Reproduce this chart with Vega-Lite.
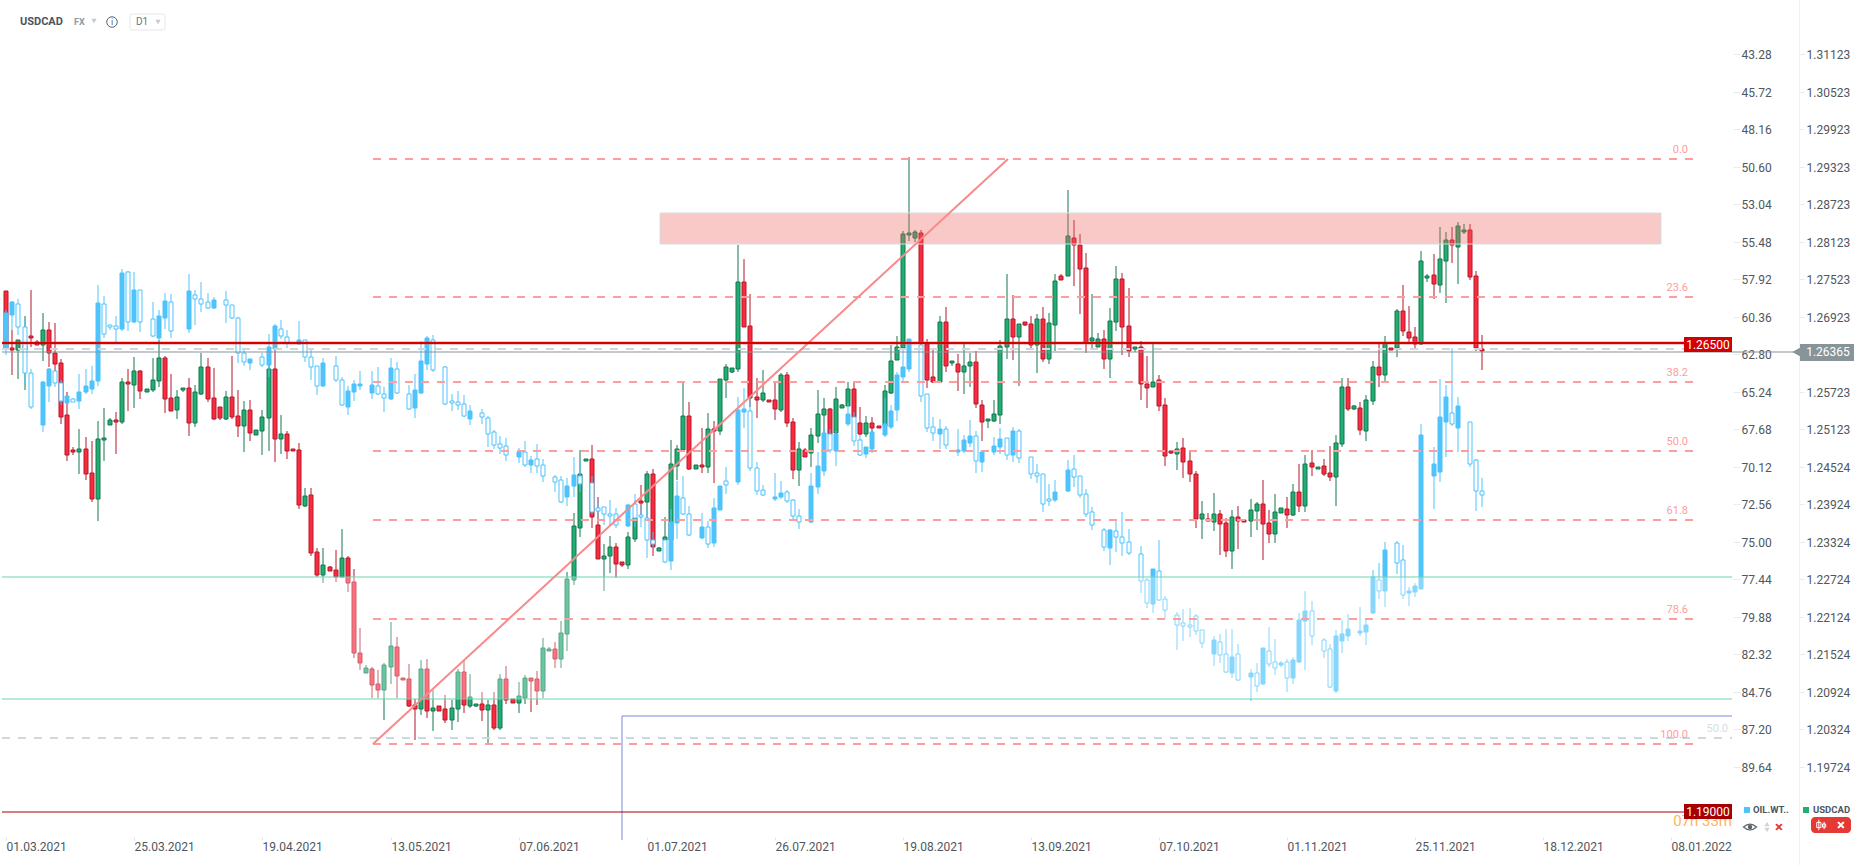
{"$schema":"https://vega.github.io/schema/vega-lite/v6.json","width":1866,"height":865,"padding":0,"autosize":"none","background":"white","config":{"view":{"stroke":null},"font":"Roboto","text":{"font":"Roboto"}},
"datasets":{"usdcad":[
{"i":0,"o":1.27334,"h":1.27334,"l":1.26422,"c":1.26422},{"i":1,"o":1.26422,"h":1.2671,"l":1.2599,"c":1.2639},{"i":2,"o":1.2639,"h":1.2655,"l":1.25926,"c":1.2655},{"i":3,"o":1.2639,"h":1.26934,"l":1.2575,"c":1.2647},{"i":4,"o":1.26614,"h":1.2735,"l":1.26438,"c":1.26582},{"i":5,"o":1.26518,"h":1.2655,"l":1.2647,"c":1.2647},{"i":6,"o":1.2647,"h":1.26982,"l":1.26214,"c":1.2671},{"i":7,"o":1.2671,"h":1.26838,"l":1.26118,"c":1.26342},{"i":8,"o":1.26342,"h":1.26822,"l":1.26022,"c":1.26166},{"i":9,"o":1.26182,"h":1.26246,"l":1.25206,"c":1.25318},
{"i":10,"o":1.2535,"h":1.25718,"l":1.24614,"c":1.2471},{"i":11,"o":1.2479,"h":1.24838,"l":1.2471,"c":1.24758},{"i":12,"o":1.24758,"h":1.25126,"l":1.24406,"c":1.24806},{"i":13,"o":1.24806,"h":1.24998,"l":1.2431,"c":1.24406},{"i":14,"o":1.24422,"h":1.24934,"l":1.23958,"c":1.24006},{"i":15,"o":1.24006,"h":1.25254,"l":1.23654,"c":1.24966},{"i":16,"o":1.2495,"h":1.25462,"l":1.24614,"c":1.24982},{"i":17,"o":1.2519,"h":1.25302,"l":1.2519,"c":1.2527},{"i":18,"o":1.2527,"h":1.25398,"l":1.24726,"c":1.25238},{"i":19,"o":1.25238,"h":1.25942,"l":1.25206,"c":1.25878},
{"i":20,"o":1.25878,"h":1.26086,"l":1.25414,"c":1.25846},{"i":21,"o":1.2583,"h":1.26278,"l":1.25462,"c":1.26054},{"i":22,"o":1.26054,"h":1.2607,"l":1.25606,"c":1.25734},{"i":23,"o":1.25718,"h":1.25766,"l":1.25718,"c":1.25766},{"i":24,"o":1.2575,"h":1.26262,"l":1.25718,"c":1.2591},{"i":25,"o":1.25894,"h":1.2655,"l":1.25798,"c":1.26262},{"i":26,"o":1.26262,"h":1.26294,"l":1.25382,"c":1.25606},{"i":27,"o":1.25622,"h":1.26006,"l":1.25414,"c":1.25414},{"i":28,"o":1.2543,"h":1.2575,"l":1.25286,"c":1.25638},{"i":29,"o":1.2575,"h":1.25782,"l":1.25718,"c":1.25782},
{"i":30,"o":1.25782,"h":1.25942,"l":1.25014,"c":1.25222},{"i":31,"o":1.25222,"h":1.2583,"l":1.25158,"c":1.25718},{"i":32,"o":1.25686,"h":1.26342,"l":1.2567,"c":1.26118},{"i":33,"o":1.26118,"h":1.26262,"l":1.25558,"c":1.25606},{"i":34,"o":1.25622,"h":1.26102,"l":1.2527,"c":1.25286},{"i":35,"o":1.25478,"h":1.25478,"l":1.2527,"c":1.25302},{"i":36,"o":1.25286,"h":1.25734,"l":1.2527,"c":1.25638},{"i":37,"o":1.25638,"h":1.26294,"l":1.25286,"c":1.25318},{"i":38,"o":1.25334,"h":1.2575,"l":1.24998,"c":1.25174},{"i":39,"o":1.25174,"h":1.25574,"l":1.24758,"c":1.2543},
{"i":40,"o":1.2543,"h":1.2559,"l":1.24934,"c":1.25062},{"i":41,"o":1.2503,"h":1.2511,"l":1.2503,"c":1.2511},{"i":42,"o":1.25094,"h":1.2543,"l":1.2471,"c":1.25318},{"i":43,"o":1.25302,"h":1.26342,"l":1.24774,"c":1.26086},{"i":44,"o":1.26086,"h":1.2639,"l":1.24598,"c":1.24966},{"i":45,"o":1.24966,"h":1.2535,"l":1.24726,"c":1.25046},{"i":46,"o":1.25046,"h":1.25094,"l":1.24646,"c":1.24774},{"i":47,"o":1.24806,"h":1.24806,"l":1.24774,"c":1.24774},{"i":48,"o":1.2479,"h":1.24902,"l":1.23846,"c":1.2391},{"i":49,"o":1.23894,"h":1.24182,"l":1.23878,"c":1.24054},
{"i":50,"o":1.2407,"h":1.24182,"l":1.23094,"c":1.23142},{"i":51,"o":1.23158,"h":1.23222,"l":1.22758,"c":1.2279},{"i":52,"o":1.2279,"h":1.23222,"l":1.22662,"c":1.2295},{"i":53,"o":1.22918,"h":1.22934,"l":1.22854,"c":1.22854},{"i":54,"o":1.2287,"h":1.2319,"l":1.22678,"c":1.22758},{"i":55,"o":1.22758,"h":1.23526,"l":1.22758,"c":1.23062},{"i":56,"o":1.23062,"h":1.23094,"l":1.22518,"c":1.22662},{"i":57,"o":1.22678,"h":1.22886,"l":1.21462,"c":1.21542},{"i":58,"o":1.21542,"h":1.21942,"l":1.2127,"c":1.21382},{"i":59,"o":1.21222,"h":1.2135,"l":1.21222,"c":1.21302},
{"i":60,"o":1.21286,"h":1.21318,"l":1.20822,"c":1.2103},{"i":61,"o":1.21046,"h":1.2127,"l":1.20822,"c":1.2095},{"i":62,"o":1.2095,"h":1.21382,"l":1.2047,"c":1.2135},{"i":63,"o":1.21318,"h":1.22038,"l":1.21046,"c":1.21654},{"i":64,"o":1.21638,"h":1.21798,"l":1.20822,"c":1.21174},{"i":65,"o":1.21142,"h":1.21142,"l":1.2111,"c":1.2111},{"i":66,"o":1.21126,"h":1.21366,"l":1.20678,"c":1.20694},{"i":67,"o":1.2071,"h":1.20806,"l":1.2015,"c":1.20646},{"i":68,"o":1.20646,"h":1.2143,"l":1.2055,"c":1.21286},{"i":69,"o":1.21286,"h":1.21446,"l":1.20502,"c":1.20614},
{"i":70,"o":1.20614,"h":1.2095,"l":1.20294,"c":1.20662},{"i":71,"o":1.20694,"h":1.20694,"l":1.20614,"c":1.20614},{"i":72,"o":1.20646,"h":1.2087,"l":1.20422,"c":1.2047},{"i":73,"o":1.2047,"h":1.2079,"l":1.2031,"c":1.20662},{"i":74,"o":1.20646,"h":1.21286,"l":1.20438,"c":1.21238},{"i":75,"o":1.21238,"h":1.21414,"l":1.20582,"c":1.2071},{"i":76,"o":1.20694,"h":1.21206,"l":1.20662,"c":1.20838},{"i":77,"o":1.20694,"h":1.20726,"l":1.20678,"c":1.20726},{"i":78,"o":1.20726,"h":1.20918,"l":1.20454,"c":1.2063},{"i":79,"o":1.2063,"h":1.2079,"l":1.20102,"c":1.2071},
{"i":80,"o":1.2071,"h":1.20918,"l":1.2031,"c":1.20342},{"i":81,"o":1.20342,"h":1.21206,"l":1.2031,"c":1.21126},{"i":82,"o":1.21126,"h":1.21334,"l":1.20726,"c":1.2079},{"i":83,"o":1.20806,"h":1.20806,"l":1.20742,"c":1.20742},{"i":84,"o":1.20742,"h":1.21078,"l":1.20582,"c":1.20854},{"i":85,"o":1.20822,"h":1.2119,"l":1.20726,"c":1.21142},{"i":86,"o":1.21142,"h":1.21142,"l":1.20598,"c":1.21094},{"i":87,"o":1.21126,"h":1.21254,"l":1.2071,"c":1.20934},{"i":88,"o":1.20934,"h":1.21782,"l":1.20822,"c":1.21622},{"i":89,"o":1.21574,"h":1.21638,"l":1.21574,"c":1.21606},
{"i":90,"o":1.21606,"h":1.21718,"l":1.21302,"c":1.21446},{"i":91,"o":1.21446,"h":1.22054,"l":1.21302,"c":1.21862},{"i":92,"o":1.21846,"h":1.22838,"l":1.21574,"c":1.22726},{"i":93,"o":1.2271,"h":1.23782,"l":1.2263,"c":1.23574},{"i":94,"o":1.23542,"h":1.2479,"l":1.23398,"c":1.24406},{"i":95,"o":1.24614,"h":1.24646,"l":1.24614,"c":1.24646},{"i":96,"o":1.24646,"h":1.2487,"l":1.23542,"c":1.23718},{"i":97,"o":1.2359,"h":1.24038,"l":1.23046,"c":1.23046},{"i":98,"o":1.23046,"h":1.23286,"l":1.22534,"c":1.23094},{"i":99,"o":1.23094,"h":1.23414,"l":1.22822,"c":1.23238},
{"i":100,"o":1.23238,"h":1.23302,"l":1.22742,"c":1.22966},{"i":101,"o":1.22998,"h":1.22998,"l":1.22918,"c":1.2295},{"i":102,"o":1.2295,"h":1.23478,"l":1.22886,"c":1.23398},{"i":103,"o":1.23366,"h":1.23974,"l":1.23318,"c":1.23702},{"i":104,"o":1.23974,"h":1.2423,"l":1.23702,"c":1.23942},{"i":105,"o":1.23958,"h":1.24454,"l":1.23702,"c":1.24406},{"i":106,"o":1.24406,"h":1.24486,"l":1.23094,"c":1.23238},{"i":107,"o":1.23174,"h":1.23238,"l":1.23174,"c":1.23222},{"i":108,"o":1.2335,"h":1.23718,"l":1.2335,"c":1.23398},{"i":109,"o":1.2335,"h":1.2495,"l":1.2311,"c":1.24566},
{"i":110,"o":1.24534,"h":1.2487,"l":1.2431,"c":1.24806},{"i":111,"o":1.2479,"h":1.25894,"l":1.24758,"c":1.25334},{"i":112,"o":1.25334,"h":1.25558,"l":1.2447,"c":1.24486},{"i":113,"o":1.24486,"h":1.2455,"l":1.24486,"c":1.2455},{"i":114,"o":1.2455,"h":1.25142,"l":1.24422,"c":1.24518},{"i":115,"o":1.24518,"h":1.25382,"l":1.24422,"c":1.25126},{"i":116,"o":1.25126,"h":1.25254,"l":1.24262,"c":1.25094},{"i":117,"o":1.25094,"h":1.25926,"l":1.2503,"c":1.25926},{"i":118,"o":1.2591,"h":1.26166,"l":1.25622,"c":1.26118},{"i":119,"o":1.26038,"h":1.26102,"l":1.26022,"c":1.26102},
{"i":120,"o":1.26086,"h":1.2807,"l":1.26038,"c":1.27478},{"i":121,"o":1.27478,"h":1.27846,"l":1.26758,"c":1.26758},{"i":122,"o":1.26774,"h":1.27286,"l":1.25478,"c":1.25622},{"i":123,"o":1.25638,"h":1.25942,"l":1.25302,"c":1.2559},{"i":124,"o":1.2559,"h":1.2607,"l":1.25558,"c":1.25702},{"i":125,"o":1.2559,"h":1.2559,"l":1.25558,"c":1.25558},{"i":126,"o":1.2559,"h":1.25894,"l":1.2527,"c":1.25446},{"i":127,"o":1.2543,"h":1.26022,"l":1.25398,"c":1.2599},{"i":128,"o":1.2599,"h":1.26038,"l":1.25158,"c":1.25222},{"i":129,"o":1.25238,"h":1.25302,"l":1.24326,"c":1.2447},
{"i":130,"o":1.2447,"h":1.24918,"l":1.24214,"c":1.24806},{"i":131,"o":1.2479,"h":1.24822,"l":1.24678,"c":1.24678},{"i":132,"o":1.24742,"h":1.25142,"l":1.24518,"c":1.2503},{"i":133,"o":1.25014,"h":1.2575,"l":1.24902,"c":1.25366},{"i":134,"o":1.2535,"h":1.25622,"l":1.25062,"c":1.25446},{"i":135,"o":1.25446,"h":1.25462,"l":1.2503,"c":1.25046},{"i":136,"o":1.25062,"h":1.25798,"l":1.2503,"c":1.25606},{"i":137,"o":1.25462,"h":1.25526,"l":1.25462,"c":1.2551},{"i":138,"o":1.25494,"h":1.25878,"l":1.25494,"c":1.25766},{"i":139,"o":1.25766,"h":1.25862,"l":1.25302,"c":1.25318},
{"i":140,"o":1.25222,"h":1.25478,"l":1.2503,"c":1.25046},{"i":141,"o":1.25046,"h":1.25334,"l":1.24998,"c":1.25222},{"i":142,"o":1.25222,"h":1.25318,"l":1.25078,"c":1.25142},{"i":143,"o":1.25174,"h":1.25174,"l":1.25142,"c":1.25142},{"i":144,"o":1.25174,"h":1.2583,"l":1.25174,"c":1.25734},{"i":145,"o":1.25702,"h":1.2647,"l":1.25686,"c":1.26214},{"i":146,"o":1.2623,"h":1.26614,"l":1.2623,"c":1.26438},{"i":147,"o":1.26422,"h":1.28294,"l":1.26422,"c":1.28246},{"i":148,"o":1.2823,"h":1.29478,"l":1.28134,"c":1.28262},{"i":149,"o":1.28182,"h":1.2831,"l":1.28118,"c":1.28278},
{"i":150,"o":1.28262,"h":1.2831,"l":1.2647,"c":1.26502},{"i":151,"o":1.26486,"h":1.26566,"l":1.25782,"c":1.2591},{"i":152,"o":1.25958,"h":1.26422,"l":1.25862,"c":1.25878},{"i":153,"o":1.25878,"h":1.26934,"l":1.25878,"c":1.26838},{"i":154,"o":1.26838,"h":1.27078,"l":1.26038,"c":1.26134},{"i":155,"o":1.26182,"h":1.26214,"l":1.26134,"c":1.26214},{"i":156,"o":1.26166,"h":1.26326,"l":1.25734,"c":1.26038},{"i":157,"o":1.26038,"h":1.26518,"l":1.25686,"c":1.26134},{"i":158,"o":1.26134,"h":1.26342,"l":1.25798,"c":1.26198},{"i":159,"o":1.26198,"h":1.26374,"l":1.25462,"c":1.25526},
{"i":160,"o":1.2551,"h":1.2559,"l":1.24934,"c":1.25238},{"i":161,"o":1.25254,"h":1.25286,"l":1.25142,"c":1.25286},{"i":162,"o":1.25254,"h":1.2559,"l":1.25238,"c":1.25366},{"i":163,"o":1.2535,"h":1.2655,"l":1.25206,"c":1.26454},{"i":164,"o":1.26438,"h":1.27606,"l":1.26246,"c":1.26886},{"i":165,"o":1.26886,"h":1.2727,"l":1.2623,"c":1.26598},{"i":166,"o":1.26598,"h":1.26806,"l":1.25814,"c":1.26806},{"i":167,"o":1.26838,"h":1.26838,"l":1.26774,"c":1.2679},{"i":168,"o":1.26806,"h":1.26934,"l":1.2639,"c":1.2647},{"i":169,"o":1.2647,"h":1.26966,"l":1.26022,"c":1.26886},
{"i":170,"o":1.26886,"h":1.27078,"l":1.26198,"c":1.26246},{"i":171,"o":1.26246,"h":1.26982,"l":1.26166,"c":1.26822},{"i":172,"o":1.2679,"h":1.27606,"l":1.26374,"c":1.27494},{"i":173,"o":1.27574,"h":1.27606,"l":1.2751,"c":1.2751},{"i":174,"o":1.27574,"h":1.2895,"l":1.27574,"c":1.28214},{"i":175,"o":1.28182,"h":1.2847,"l":1.27414,"c":1.2807},{"i":176,"o":1.2807,"h":1.28246,"l":1.26966,"c":1.27686},{"i":177,"o":1.27702,"h":1.27942,"l":1.26342,"c":1.26502},{"i":178,"o":1.26534,"h":1.27286,"l":1.26422,"c":1.26582},{"i":179,"o":1.26438,"h":1.26662,"l":1.26438,"c":1.26566},
{"i":180,"o":1.26566,"h":1.2671,"l":1.26086,"c":1.26246},{"i":181,"o":1.26246,"h":1.27062,"l":1.25942,"c":1.26854},{"i":182,"o":1.26838,"h":1.27734,"l":1.26694,"c":1.27526},{"i":183,"o":1.27526,"h":1.27622,"l":1.2631,"c":1.26758},{"i":184,"o":1.26774,"h":1.27382,"l":1.26278,"c":1.26374},{"i":185,"o":1.26406,"h":1.26438,"l":1.26358,"c":1.26438},{"i":186,"o":1.26438,"h":1.26534,"l":1.2559,"c":1.25846},{"i":187,"o":1.25846,"h":1.26294,"l":1.25462,"c":1.25782},{"i":188,"o":1.25798,"h":1.26486,"l":1.25798,"c":1.25878},{"i":189,"o":1.2591,"h":1.2599,"l":1.25414,"c":1.25494},
{"i":190,"o":1.2551,"h":1.25622,"l":1.24534,"c":1.24694},{"i":191,"o":1.24774,"h":1.24774,"l":1.24726,"c":1.24742},{"i":192,"o":1.24726,"h":1.24918,"l":1.2447,"c":1.24806},{"i":193,"o":1.24822,"h":1.24982,"l":1.24342,"c":1.24598},{"i":194,"o":1.24614,"h":1.2479,"l":1.24278,"c":1.24406},{"i":195,"o":1.24406,"h":1.24454,"l":1.23542,"c":1.23686},{"i":196,"o":1.23686,"h":1.23974,"l":1.23366,"c":1.23766},{"i":197,"o":1.23686,"h":1.23782,"l":1.23654,"c":1.23654},{"i":198,"o":1.23638,"h":1.24102,"l":1.23494,"c":1.23766},{"i":199,"o":1.23766,"h":1.2383,"l":1.2311,"c":1.23606},
{"i":200,"o":1.23622,"h":1.23702,"l":1.23078,"c":1.23174},{"i":201,"o":1.23174,"h":1.2383,"l":1.22886,"c":1.23718},{"i":202,"o":1.23718,"h":1.23894,"l":1.23206,"c":1.23654},{"i":203,"o":1.2367,"h":1.23686,"l":1.23638,"c":1.23638},{"i":204,"o":1.23654,"h":1.24006,"l":1.23398,"c":1.2383},{"i":205,"o":1.23814,"h":1.23958,"l":1.2351,"c":1.23926},{"i":206,"o":1.23926,"h":1.2431,"l":1.2303,"c":1.23606},{"i":207,"o":1.23622,"h":1.2383,"l":1.23302,"c":1.23446},{"i":208,"o":1.23446,"h":1.24086,"l":1.23302,"c":1.23798},{"i":209,"o":1.23782,"h":1.23862,"l":1.23782,"c":1.23862},
{"i":210,"o":1.23846,"h":1.24038,"l":1.23542,"c":1.2375},{"i":211,"o":1.2375,"h":1.24246,"l":1.23734,"c":1.24118},{"i":212,"o":1.24118,"h":1.24566,"l":1.23798,"c":1.23894},{"i":213,"o":1.23894,"h":1.2471,"l":1.23798,"c":1.24566},{"i":214,"o":1.24582,"h":1.2479,"l":1.24374,"c":1.24518},{"i":215,"o":1.24486,"h":1.24518,"l":1.24486,"c":1.24518},{"i":216,"o":1.24534,"h":1.24646,"l":1.24374,"c":1.24406},{"i":217,"o":1.24422,"h":1.24854,"l":1.24294,"c":1.24358},{"i":218,"o":1.24358,"h":1.2503,"l":1.23894,"c":1.24902},{"i":219,"o":1.24886,"h":1.25942,"l":1.24838,"c":1.25798},
{"i":220,"o":1.25798,"h":1.25942,"l":1.25414,"c":1.25446},{"i":221,"o":1.25446,"h":1.2551,"l":1.2543,"c":1.25494},{"i":222,"o":1.25462,"h":1.25558,"l":1.2503,"c":1.2511},{"i":223,"o":1.25094,"h":1.2567,"l":1.24934,"c":1.2559},{"i":224,"o":1.25574,"h":1.26214,"l":1.2551,"c":1.26118},{"i":225,"o":1.26118,"h":1.26486,"l":1.25798,"c":1.2599},{"i":226,"o":1.2599,"h":1.26614,"l":1.25862,"c":1.26502},{"i":227,"o":1.26422,"h":1.26422,"l":1.2639,"c":1.2639},{"i":228,"o":1.26422,"h":1.27046,"l":1.26278,"c":1.27014},{"i":229,"o":1.27014,"h":1.2743,"l":1.26614,"c":1.26694},
{"i":230,"o":1.26678,"h":1.27094,"l":1.26502,"c":1.26582},{"i":231,"o":1.26598,"h":1.26758,"l":1.26422,"c":1.26486},{"i":232,"o":1.26486,"h":1.27974,"l":1.2647,"c":1.27814},{"i":233,"o":1.27542,"h":1.27606,"l":1.27478,"c":1.27574},{"i":234,"o":1.2759,"h":1.27926,"l":1.27206,"c":1.27446},{"i":235,"o":1.2743,"h":1.28358,"l":1.27302,"c":1.27846},{"i":236,"o":1.27814,"h":1.28278,"l":1.27142,"c":1.2815},{"i":237,"o":1.2815,"h":1.28358,"l":1.27782,"c":1.2807},{"i":238,"o":1.28038,"h":1.28438,"l":1.27446,"c":1.28374},{"i":239,"o":1.28278,"h":1.28406,"l":1.28246,"c":1.2831},
{"i":240,"o":1.2831,"h":1.28406,"l":1.2751,"c":1.27558},{"i":241,"o":1.27574,"h":1.27654,"l":1.26374,"c":1.26422},{"i":242,"o":1.26406,"h":1.2663,"l":1.2607,"c":1.26374}
],"oil":[
{"i":0,"o":62.4,"h":62.85,"l":59.92,"c":60.12},{"i":1,"o":60.25,"h":61.22,"l":59.34,"c":59.4},{"i":2,"o":59.53,"h":61.55,"l":59.21,"c":61.03},{"i":3,"o":61.03,"h":64.81,"l":60.51,"c":64.03},{"i":4,"o":64.03,"h":66.37,"l":63.77,"c":66.24},{"i":6,"o":67.41,"h":67.86,"l":64.55,"c":64.61},{"i":7,"o":64.87,"h":65.91,"l":63.7,"c":63.77},{"i":8,"o":63.9,"h":64.94,"l":63.77,"c":64.68},{"i":9,"o":64.68,"h":66.11,"l":64.48,"c":65.85},{"i":10,"o":65.98,"h":65.98,"l":65.52,"c":65.52},{"i":11,"o":65.72,"h":65.91,"l":65.65,"c":65.91},{"i":12,"o":65.85,"h":66.37,"l":64.09,"c":65.26},{"i":13,"o":65.26,"h":65.39,"l":63.77,"c":64.87},{"i":14,"o":65.07,"h":65.39,"l":63.57,"c":64.55},{"i":15,"o":64.55,"h":64.87,"l":58.3,"c":59.47},{"i":16,"o":59.53,"h":61.75,"l":59.01,"c":61.48},{"i":17,"o":60.9,"h":61.22,"l":60.9,"c":61.03},{"i":18,"o":60.96,"h":62.01,"l":60.31,"c":61.16},{"i":19,"o":61.16,"h":61.29,"l":57.26,"c":57.52},{"i":20,"o":57.45,"h":61.29,"l":57.39,"c":60.7},{"i":21,"o":60.7,"h":60.77,"l":57.45,"c":58.62},{"i":22,"o":58.62,"h":61.35,"l":58.62,"c":60.7},{"i":24,"o":60.51,"h":61.68,"l":59.4,"c":61.61},{"i":25,"o":61.75,"h":62.2,"l":59.92,"c":60.31},{"i":26,"o":60.44,"h":61.16,"l":58.81,"c":59.34},{"i":27,"o":59.4,"h":61.75,"l":58.88,"c":61.29},{"i":30,"o":61.16,"h":61.42,"l":57.58,"c":58.69},{"i":31,"o":58.95,"h":60.9,"l":58.62,"c":59.21},{"i":32,"o":59.21,"h":60.05,"l":58.1,"c":59.53},{"i":33,"o":59.4,"h":59.86,"l":58.81,"c":59.79},{"i":34,"o":59.79,"h":59.86,"l":59.08,"c":59.27},{"i":36,"o":59.27,"h":60.77,"l":58.69,"c":59.6},{"i":37,"o":59.6,"h":60.51,"l":59.6,"c":60.44},{"i":38,"o":60.44,"h":63.38,"l":60.38,"c":62.72},{"i":39,"o":62.72,"h":63.57,"l":62.53,"c":63.31},{"i":40,"o":63.38,"h":63.83,"l":63.12,"c":63.12},{"i":42,"o":62.98,"h":63.63,"l":62.72,"c":63.5},{"i":43,"o":63.5,"h":64.29,"l":61.48,"c":62.33},{"i":44,"o":62.46,"h":62.59,"l":60.83,"c":60.96},{"i":45,"o":61.16,"h":61.81,"l":60.57,"c":61.61},{"i":46,"o":61.68,"h":62.4,"l":61.22,"c":62.07},{"i":48,"o":62.14,"h":62.2,"l":60.64,"c":61.88},{"i":49,"o":61.88,"h":63.31,"l":61.88,"c":62.98},
{"i":50,"o":62.98,"h":64.48,"l":62.53,"c":63.63},{"i":51,"o":63.57,"h":65.46,"l":63.57,"c":64.87},{"i":52,"o":64.87,"h":64.94,"l":63.05,"c":63.38},{"i":54,"o":63.57,"h":64.61,"l":62.92,"c":64.48},{"i":55,"o":64.48,"h":66.17,"l":64.29,"c":66.11},{"i":56,"o":66.24,"h":66.76,"l":64.87,"c":65.2},{"i":57,"o":65.26,"h":65.85,"l":64.48,"c":64.74},{"i":58,"o":64.87,"h":65.13,"l":63.9,"c":64.74},{"i":60,"o":65.33,"h":65.72,"l":63.9,"c":64.81},{"i":61,"o":64.87,"h":65.46,"l":63.63,"c":65.39},{"i":62,"o":65.39,"h":66.56,"l":64.94,"c":65.65},{"i":63,"o":65.72,"h":65.78,"l":63.05,"c":63.7},{"i":64,"o":63.77,"h":65.39,"l":63.31,"c":65.33},{"i":66,"o":65.39,"h":66.43,"l":64.81,"c":66.37},{"i":67,"o":66.3,"h":66.95,"l":64.09,"c":65.13},{"i":68,"o":65.33,"h":65.39,"l":61.94,"c":63.24},{"i":69,"o":63.44,"h":63.83,"l":61.61,"c":61.75},{"i":70,"o":61.88,"h":63.96,"l":61.55,"c":63.83},{"i":72,"o":63.63,"h":66.11,"l":63.57,"c":66.04},{"i":73,"o":65.85,"h":66.5,"l":65.39,"c":65.98},{"i":74,"o":65.91,"h":66.43,"l":65.2,"c":66.11},{"i":75,"o":66.04,"h":66.89,"l":65.46,"c":66.82},{"i":76,"o":67.02,"h":67.41,"l":66.11,"c":66.5},{"i":78,"o":66.63,"h":67.34,"l":66.37,"c":66.89},{"i":79,"o":66.95,"h":68.84,"l":66.82,"c":67.99},{"i":80,"o":67.86,"h":68.97,"l":67.73,"c":68.71},{"i":81,"o":68.64,"h":69.29,"l":68.12,"c":68.9},{"i":82,"o":68.77,"h":69.75,"l":68.25,"c":69.36},{"i":84,"o":69.49,"h":69.88,"l":68.9,"c":69.16},{"i":85,"o":69.16,"h":70.14,"l":68.45,"c":70.01},{"i":86,"o":70.01,"h":70.53,"l":69.42,"c":69.68},{"i":87,"o":69.62,"h":70.53,"l":68.64,"c":70.07},{"i":88,"o":70.01,"h":71.11,"l":69.62,"c":70.72},{"i":90,"o":70.79,"h":71.76,"l":70.66,"c":71.11},{"i":91,"o":70.98,"h":72.48,"l":70.72,"c":72.42},{"i":92,"o":72.09,"h":72.68,"l":70.85,"c":71.37},{"i":93,"o":71.37,"h":72.09,"l":69.49,"c":70.66},{"i":94,"o":70.72,"h":71.76,"l":69.81,"c":71.24},{"i":96,"o":71.18,"h":73.2,"l":70.72,"c":73.07},{"i":97,"o":72.81,"h":73.46,"l":72.42,"c":73},{"i":98,"o":72.74,"h":73.92,"l":72.74,"c":73.2},{"i":99,"o":73.2,"h":73.92,"l":72.29,"c":73.33},
{"i":100,"o":73.2,"h":74.11,"l":72.81,"c":73.92},{"i":102,"o":73.98,"h":74.05,"l":72.55,"c":72.61},{"i":103,"o":72.55,"h":74.05,"l":71.89,"c":73.46},{"i":104,"o":73.26,"h":74.05,"l":72.61,"c":73.39},{"i":105,"o":73.46,"h":76.06,"l":72.81,"c":74.89},{"i":106,"o":74.89,"h":75.41,"l":74.37,"c":75.15},{"i":108,"o":74.89,"h":76.39,"l":74.83,"c":76.32},{"i":109,"o":76.26,"h":76.84,"l":72.87,"c":73.72},{"i":110,"o":73.78,"h":74.83,"l":71.05,"c":72.03},{"i":111,"o":72.16,"h":73.26,"l":70.72,"c":73.2},{"i":112,"o":73.2,"h":74.63,"l":72.68,"c":74.57},{"i":114,"o":74.76,"h":74.83,"l":73.13,"c":74.05},{"i":115,"o":74.05,"h":75.41,"l":73.65,"c":75.15},{"i":116,"o":75.09,"h":75.35,"l":72.16,"c":72.81},{"i":117,"o":72.94,"h":72.94,"l":71.37,"c":71.37},{"i":118,"o":71.05,"h":71.89,"l":70.14,"c":71.31},{"i":120,"o":71.11,"h":71.31,"l":65.59,"c":66.43},{"i":121,"o":66.56,"h":67.6,"l":65,"c":66.37},{"i":122,"o":66.5,"h":70.4,"l":65.52,"c":70.2},{"i":123,"o":70.2,"h":71.96,"l":69.81,"c":71.7},{"i":124,"o":71.63,"h":72.03,"l":71.31,"c":71.96},{"i":126,"o":72.22,"h":72.35,"l":70.53,"c":72.09},{"i":127,"o":72.09,"h":72.22,"l":71.05,"c":71.83},{"i":128,"o":71.76,"h":72.48,"l":71.63,"c":72.35},{"i":129,"o":72.29,"h":73.59,"l":72.22,"c":73.33},{"i":130,"o":73.33,"h":74.18,"l":72.87,"c":73.72},{"i":132,"o":73.72,"h":73.78,"l":70.53,"c":71.37},{"i":133,"o":71.44,"h":71.89,"l":69.16,"c":70.07},{"i":134,"o":70.4,"h":70.72,"l":67.6,"c":67.93},{"i":135,"o":67.99,"h":69.23,"l":67.66,"c":69.03},{"i":136,"o":69.1,"h":70.07,"l":67.8,"c":67.99},{"i":138,"o":67.34,"h":67.47,"l":65.98,"c":66.69},{"i":139,"o":66.89,"h":68.77,"l":66.56,"c":68.45},{"i":140,"o":68.38,"h":69.42,"l":68.05,"c":69.36},{"i":141,"o":69.29,"h":69.55,"l":68.84,"c":68.84},{"i":142,"o":68.97,"h":69.23,"l":67.73,"c":67.86},{"i":144,"o":68.05,"h":68.18,"l":65.65,"c":67.34},{"i":145,"o":67.54,"h":67.67,"l":66.11,"c":66.5},{"i":146,"o":66.43,"h":67.15,"l":63.96,"c":64.16},{"i":147,"o":64.29,"h":64.55,"l":62.46,"c":63.63},{"i":148,"o":63.77,"h":63.96,"l":61.81,"c":61.81},
{"i":150,"o":62.2,"h":65.91,"l":62.2,"c":65.52},{"i":151,"o":65.39,"h":67.86,"l":65.39,"c":67.6},{"i":152,"o":67.54,"h":68.45,"l":66.89,"c":67.93},{"i":153,"o":67.99,"h":68.97,"l":67.02,"c":67.67},{"i":154,"o":67.67,"h":68.97,"l":67.47,"c":68.71},{"i":156,"o":69.16,"h":69.42,"l":67.67,"c":69.03},{"i":157,"o":69.1,"h":69.23,"l":68.05,"c":68.38},{"i":158,"o":68.58,"h":68.84,"l":67.08,"c":68.12},{"i":159,"o":68.12,"h":70.53,"l":67.8,"c":69.75},{"i":160,"o":69.81,"h":70.46,"l":69.16,"c":69.16},{"i":162,"o":69.16,"h":69.36,"l":68.18,"c":68.77},{"i":163,"o":68.84,"h":69.29,"l":67.6,"c":68.32},{"i":164,"o":68.25,"h":69.68,"l":68.25,"c":69.36},{"i":165,"o":69.36,"h":69.81,"l":67.54,"c":67.8},{"i":166,"o":67.8,"h":69.88,"l":67.67,"c":69.55},{"i":168,"o":69.49,"h":70.92,"l":69.49,"c":70.59},{"i":169,"o":70.53,"h":71.18,"l":69.94,"c":70.72},{"i":170,"o":70.59,"h":73.07,"l":70.59,"c":72.55},{"i":171,"o":72.22,"h":72.68,"l":71.24,"c":72.35},{"i":172,"o":72.29,"h":72.42,"l":70.98,"c":71.76},{"i":174,"o":71.7,"h":71.76,"l":69.68,"c":70.33},{"i":175,"o":70.27,"h":71.44,"l":69.36,"c":70.79},{"i":176,"o":70.72,"h":72.16,"l":70.72,"c":71.96},{"i":177,"o":71.89,"h":73.39,"l":71.57,"c":73.2},{"i":178,"o":73.07,"h":74.24,"l":72.74,"c":73.92},{"i":180,"o":74.24,"h":75.6,"l":74.11,"c":75.35},{"i":181,"o":75.41,"h":76.52,"l":74.18,"c":74.24},{"i":182,"o":74.31,"h":75.67,"l":73.65,"c":74.7},{"i":183,"o":74.7,"h":75.93,"l":73.07,"c":75.09},{"i":184,"o":75.02,"h":75.86,"l":74.18,"c":75.74},{"i":186,"o":75.8,"h":78.33,"l":75.28,"c":77.56},{"i":187,"o":77.49,"h":79.31,"l":77.36,"c":78.98},{"i":188,"o":79.05,"h":79.64,"l":76.77,"c":76.77},{"i":189,"o":76.9,"h":78.86,"l":74.89,"c":78.79},{"i":190,"o":78.72,"h":79.96,"l":78.53,"c":79.44},{"i":192,"o":79.77,"h":82.04,"l":79.57,"c":80.42},{"i":193,"o":80.29,"h":81.46,"l":79.38,"c":80.48},{"i":194,"o":80.42,"h":81.2,"l":79.31,"c":80.55},{"i":195,"o":79.83,"h":81.07,"l":79.7,"c":80.81},{"i":196,"o":80.74,"h":81.91,"l":80.74,"c":81.59},{"i":198,"o":82.3,"h":83.09,"l":81.13,"c":81.39},{"i":199,"o":81.52,"h":82.89,"l":81,"c":82.37},
{"i":200,"o":82.3,"h":83.54,"l":80.68,"c":83.48},{"i":201,"o":83.54,"h":83.87,"l":80.68,"c":82.5},{"i":202,"o":82.3,"h":84.06,"l":81.65,"c":84},{"i":204,"o":83.8,"h":85.37,"l":83.28,"c":83.54},{"i":205,"o":83.54,"h":84.78,"l":82.89,"c":84.39},{"i":206,"o":84.26,"h":84.33,"l":81.91,"c":81.91},{"i":207,"o":82.11,"h":83.15,"l":80.55,"c":82.96},{"i":208,"o":82.83,"h":83.67,"l":81.33,"c":83.22},{"i":209,"o":83.02,"h":83.15,"l":82.76,"c":82.89},{"i":210,"o":82.83,"h":84.78,"l":82.63,"c":83.87},{"i":211,"o":83.87,"h":84.26,"l":82.5,"c":82.7},{"i":212,"o":82.83,"h":82.89,"l":79.64,"c":80.09},{"i":213,"o":80.16,"h":83.35,"l":78.21,"c":79.51},{"i":214,"o":79.51,"h":81.72,"l":78.86,"c":81.13},{"i":216,"o":81.39,"h":82.57,"l":81.26,"c":82.11},{"i":217,"o":81.98,"h":84.52,"l":81.65,"c":84.46},{"i":218,"o":84.72,"h":84.85,"l":80.74,"c":81.13},{"i":219,"o":81.46,"h":82.24,"l":80.09,"c":81},{"i":220,"o":81.13,"h":81.46,"l":79.7,"c":80.68},{"i":222,"o":80.94,"h":81.13,"l":79.25,"c":80.81},{"i":223,"o":80.87,"h":81.72,"l":79.96,"c":80.42},{"i":224,"o":79.64,"h":79.7,"l":76.84,"c":77.3},{"i":225,"o":77.49,"h":78.72,"l":76.39,"c":78.21},{"i":226,"o":78.21,"h":79.25,"l":75.02,"c":75.54},{"i":228,"o":75.09,"h":77.1,"l":74.96,"c":76.39},{"i":229,"o":76.19,"h":78.72,"l":75.22,"c":78.46},{"i":230,"o":78.33,"h":79.18,"l":77.95,"c":78.21},{"i":231,"o":78.27,"h":78.6,"l":77.69,"c":77.88},{"i":232,"o":78.07,"h":78.07,"l":67.34,"c":68.05},{"i":234,"o":70.72,"h":72.87,"l":68.84,"c":69.94},{"i":235,"o":70.46,"h":71.11,"l":64.42,"c":66.89},{"i":236,"o":67.21,"h":69.49,"l":64.81,"c":65.59},{"i":237,"o":66.63,"h":67.47,"l":62.4,"c":67.34},{"i":238,"o":67.6,"h":69.16,"l":65.59,"c":66.17},{"i":240,"o":67.21,"h":70.14,"l":67.21,"c":69.94},{"i":241,"o":69.68,"h":73,"l":69.62,"c":71.7},{"i":242,"o":71.7,"h":72.74,"l":70.85,"c":71.96}
]},
"encoding":{"x":{"field":"i","type":"quantitative","title":null,"scale":{"domain":[-1.033,304.9],"nice":false,"zero":false,"round":true,"padding":0},"axis":{"orient":"bottom","offset":-28,"domain":false,"grid":false,"tickSize":3,"tickColor":"#dfe4e6","labelPadding":1,"labelAlign":"left","labelBaseline":"top","labelFont":"Roboto","labelFontSize":12,"labelColor":"#50575d","labelOverlap":false,"labelFlush":false,"labelBound":false,"values":[0,21,42,63,84,105,126,147,168,189,210,231,252,273],"labelExpr":"['01.03.2021','25.03.2021','19.04.2021','13.05.2021','07.06.2021','01.07.2021','26.07.2021','19.08.2021','13.09.2021','07.10.2021','01.11.2021','25.11.2021','18.12.2021','08.01.2022'][round(datum.value/21)]"}}},
"layer":[
{"data":{"name":"usdcad"},"encoding":{"y":{"field":"l","type":"quantitative","title":null,"scale":{"domain":[1.1815,1.3199],"nice":false,"zero":false,"round":true},"axis":{"orient":"right","offset":-67,"grid":false,"domain":true,"domainColor":"#eef1f2","tickSize":5,"tickColor":"#e8ecee","labelPadding":2,"labelFont":"Roboto","labelFontSize":12,"labelColor":"#50575d","format":".5f","labelOverlap":false,"labelBound":false,"values":[1.31123,1.30523,1.29923,1.29323,1.28723,1.28123,1.27523,1.26923,1.25723,1.25123,1.24524,1.23924,1.23324,1.22724,1.22124,1.21524,1.20924,1.20324,1.19724]}}},
"layer":[
{"mark":{"type":"rule","strokeWidth":1},"encoding":{"y2":{"field":"h"},"stroke":{"condition":{"test":"datum.c>=datum.o","value":"#13774f"},"value":"#b3182b"}}},
{"mark":{"type":"bar","width":4,"strokeWidth":1,"opacity":1},"encoding":{"y":{"field":"o","type":"quantitative"},"y2":{"field":"c"},"fill":{"condition":{"test":"datum.c>=datum.o","value":"#22ad72"},"value":"#fb2b3f"},"stroke":{"condition":{"test":"datum.c>=datum.o","value":"#13774f"},"value":"#b3182b"}}}
]},
{"data":{"name":"oil"},"encoding":{"y":{"field":"l","type":"quantitative","title":null,"scale":{"domain":[39.755,96.03],"reverse":true,"nice":false,"zero":false,"round":true},"axis":{"orient":"right","offset":-133,"grid":false,"domain":false,"tickSize":7,"tickColor":"#e8ecee","labelPadding":1,"labelFont":"Roboto","labelFontSize":12,"labelColor":"#50575d","format":".2f","labelOverlap":false,"labelBound":false,"values":[43.28,45.72,48.16,50.6,53.04,55.48,57.92,60.36,62.8,65.24,67.68,70.12,72.56,75,77.44,79.88,82.32,84.76,87.2,89.64]}}},
"layer":[
{"mark":{"type":"rule","strokeWidth":1,"stroke":"#4fc3fb"},"encoding":{"y2":{"field":"h"}}},
{"mark":{"type":"bar","width":4,"strokeWidth":1,"stroke":"#4fc3fb","opacity":1},"encoding":{"y":{"field":"o","type":"quantitative"},"y2":{"field":"c"},"fill":{"condition":{"test":"datum.c>=datum.o","value":"#ffffff"},"value":"#4fc3fb"}}}
]},
{"encoding":{"y":{"field":"p","type":"quantitative","title":null,"scale":{"domain":[1.1815,1.3199],"nice":false,"zero":false,"round":true},"axis":null}},
"layer":[
{"data":{"values":[{"i":-0.7,"i2":282.9,"p":1.22752,"p2":1.20809}]},"mark":{"type":"rect","fill":"#ffffff","fillOpacity":0.32},"encoding":{"x2":{"field":"i2"},"y2":{"field":"p2"}}},
{"data":{"values":[{"i":-0.7,"i2":282.9,"p":1.22752},{"i":-0.7,"i2":282.9,"p":1.20809}]},"mark":{"type":"rule","stroke":"#6dd5b0","strokeWidth":1},"encoding":{"x2":{"field":"i2"}}},
{"data":{"values":[{"i":-0.7,"i2":282.9,"p":1.26401},{"i":-0.7,"i2":282.9,"p":1.20177}]},"mark":{"type":"rule","stroke":"#ccd9dd","strokeWidth":2,"strokeDash":[8,8]},"encoding":{"x2":{"field":"i2"}}},
{"data":{"values":[{"i":-0.7,"i2":293.1,"p":1.26365}]},"mark":{"type":"rule","stroke":"#87949a","strokeWidth":1},"encoding":{"x2":{"field":"i2"}}},
{"data":{"values":[{"i":60.1,"i2":276.5,"p":1.29441},{"i":60.1,"i2":276.5,"p":1.27233},{"i":60.1,"i2":276.5,"p":1.25873},{"i":60.1,"i2":276.5,"p":1.24769},{"i":60.1,"i2":276.5,"p":1.23665},{"i":60.1,"i2":276.5,"p":1.22081},{"i":60.1,"i2":276.5,"p":1.20086}]},"mark":{"type":"rule","stroke":"#ff9c9c","strokeWidth":2,"strokeDash":[8,8]},"encoding":{"x2":{"field":"i2"}}},
{"data":{"values":[{"i":101,"i2":282.9,"p":1.20529}]},"mark":{"type":"rule","stroke":"#7b88d4","strokeWidth":1},"encoding":{"x2":{"field":"i2"}}},
{"data":{"values":[{"i":101,"p":1.20529,"p2":1.1855}]},"mark":{"type":"rule","stroke":"#7b88d4","strokeWidth":1},"encoding":{"y2":{"field":"p2"}}},
{"data":{"values":[{"i":107.1,"i2":271.3,"p":1.28577,"p2":1.28082}]},"mark":{"type":"rect","fill":"#ed645e","fillOpacity":0.35,"stroke":"#d4e0e3","strokeWidth":1},"encoding":{"x2":{"field":"i2"},"y2":{"field":"p2"}}},
{"data":{"values":[{"i":60.1,"i2":164.2,"p":1.20086,"p2":1.29441}]},"mark":{"type":"rule","stroke":"#f98a8a","strokeWidth":2},"encoding":{"x2":{"field":"i2"},"y2":{"field":"p2"}}},
{"data":{"values":[{"i":-0.7,"i2":282.9,"p":1.265}]},"mark":{"type":"rule","stroke":"#e04040","strokeWidth":4,"opacity":0.3},"encoding":{"x2":{"field":"i2"}}},
{"data":{"values":[{"i":-0.7,"i2":282.9,"p":1.265}]},"mark":{"type":"rule","stroke":"#d40000","strokeWidth":2},"encoding":{"x2":{"field":"i2"}}},
{"data":{"values":[{"i":-0.7,"i2":282.9,"p":1.19}]},"mark":{"type":"rule","stroke":"#a80000","strokeWidth":1},"encoding":{"x2":{"field":"i2"}}},
{"data":{"values":[{"i":275.7,"p":1.29441,"t":"0.0"},{"i":275.7,"p":1.27233,"t":"23.6"},{"i":275.7,"p":1.25873,"t":"38.2"},{"i":275.7,"p":1.24769,"t":"50.0"},{"i":275.7,"p":1.23665,"t":"61.8"},{"i":275.7,"p":1.22081,"t":"78.6"},{"i":275.7,"p":1.20086,"t":"100.0"}]},"mark":{"type":"text","align":"right","baseline":"middle","dy":-9,"fontSize":11,"fill":"#ff9c9c"},"encoding":{"text":{"field":"t"}}},
{"data":{"values":[{"i":282.2,"p":1.20177,"t":"50.0"}]},"mark":{"type":"text","align":"right","baseline":"middle","dy":-9,"fontSize":11,"fill":"#d5dee2"},"encoding":{"text":{"field":"t"}}},
{"data":{"values":[{"i":282.9,"p":1.18854,"t":"07h 33m"}]},"mark":{"type":"text","align":"right","baseline":"middle","fontSize":15,"fill":"#ffb45e"},"encoding":{"text":{"field":"t"}}},
{"data":{"values":[{"i":275,"i2":282.9,"p":1.26598,"p2":1.26362}]},"mark":{"type":"rect","fill":"#d40000"},"encoding":{"x2":{"field":"i2"},"y2":{"field":"p2"}}},
{"data":{"values":[{"i":275,"i2":282.9,"p":1.19126,"p2":1.18886}]},"mark":{"type":"rect","fill":"#a80000"},"encoding":{"x2":{"field":"i2"},"y2":{"field":"p2"}}},
{"data":{"values":[{"i":294.1,"i2":303,"p":1.26491,"p2":1.26214}]},"mark":{"type":"rect","fill":"#87949a"},"encoding":{"x2":{"field":"i2"},"y2":{"field":"p2"}}},
{"data":{"values":[{"i":293.7,"p":1.26365}]},"mark":{"type":"point","shape":"triangle-left","size":170,"filled":true,"fill":"#87949a","opacity":1}},
{"data":{"values":[{"i":279,"p":1.26465,"t":"1.26500"},{"i":279,"p":1.19006,"t":"1.19000"},{"i":298.6,"p":1.26352,"t":"1.26365"}]},"mark":{"type":"text","align":"center","baseline":"middle","fontSize":12,"fill":"#ffffff"},"encoding":{"text":{"field":"t"}}},
{"data":{"values":[{"i":20.36,"i2":26.1,"p":1.31774,"p2":1.31502}]},"mark":{"type":"rect","fill":"#ffffff","stroke":"#e4e7e9","strokeWidth":1,"cornerRadius":2},"encoding":{"x2":{"field":"i2"},"y2":{"field":"p2"}}},
{"data":{"values":[{"i":2.25,"p":1.31638,"t":"USDCAD"}]},"mark":{"type":"text","align":"left","baseline":"middle","fontSize":11,"fontWeight":"bold","fill":"#4a5560"},"encoding":{"text":{"field":"t"}}},
{"data":{"values":[{"i":11.1,"p":1.31638,"t":"FX"}]},"mark":{"type":"text","align":"left","baseline":"middle","fontSize":9,"fontWeight":"bold","fill":"#8a9aa5"},"encoding":{"text":{"field":"t"}}},
{"data":{"values":[{"i":21.3,"p":1.31638,"t":"D1"}]},"mark":{"type":"text","align":"left","baseline":"middle","fontSize":10,"fill":"#6a7680"},"encoding":{"text":{"field":"t"}}},
{"data":{"values":[{"i":14.4,"p":1.31654},{"i":24.9,"p":1.31638}]},"mark":{"type":"point","shape":"triangle-down","size":28,"filled":true,"fill":"#c5cbcf","opacity":1}},
{"data":{"values":[{"i":17.4,"p":1.31638}]},"mark":{"type":"point","shape":"circle","size":110,"filled":false,"stroke":"#5b6770","strokeWidth":1,"opacity":1}},
{"data":{"values":[{"i":17.4,"p":1.31638,"t":"i"}]},"mark":{"type":"text","align":"center","baseline":"middle","fontSize":9,"fill":"#5b6770"},"encoding":{"text":{"field":"t"}}},
{"data":{"values":[{"i":285.4,"p":1.1903}]},"mark":{"type":"point","shape":"square","size":36,"filled":true,"fill":"#4fc3fb","opacity":1}},
{"data":{"values":[{"i":295.05,"p":1.1903}]},"mark":{"type":"point","shape":"square","size":36,"filled":true,"fill":"#22ad72","opacity":1}},
{"data":{"values":[{"i":286.3,"p":1.1903,"t":"OIL.WT.."},{"i":296.2,"p":1.1903,"t":"USDCAD"}]},"mark":{"type":"text","align":"left","baseline":"middle","fontSize":9.5,"fontWeight":"bold","fill":"#4a5560"},"encoding":{"text":{"field":"t"}}},
{"data":{"values":[{"i":285.8,"p":1.18758}]},"mark":{"type":"point","shape":"M -1 0 Q 0 -0.9 1 0 Q 0 0.9 -1 0 Z","size":170,"filled":false,"stroke":"#5b6770","strokeWidth":1.2,"opacity":1}},
{"data":{"values":[{"i":285.8,"p":1.18758}]},"mark":{"type":"point","shape":"circle","size":20,"filled":true,"fill":"#5b6770","opacity":1}},
{"data":{"values":[{"i":288.6,"p":1.18806}]},"mark":{"type":"point","shape":"triangle-up","size":28,"filled":true,"fill":"#cfd6d9","opacity":1}},
{"data":{"values":[{"i":288.6,"p":1.1871}]},"mark":{"type":"point","shape":"triangle-down","size":28,"filled":true,"fill":"#cfd6d9","opacity":1}},
{"data":{"values":[{"i":290.7,"p":1.18758,"t":"×"}]},"mark":{"type":"text","align":"center","baseline":"middle","fontSize":15,"fontWeight":"bold","fill":"#e53935"},"encoding":{"text":{"field":"t"}}},
{"data":{"values":[{"i":295.85,"i2":302.4,"p":1.18918,"p2":1.18662}]},"mark":{"type":"rect","fill":"#e53935","cornerRadius":4},"encoding":{"x2":{"field":"i2"},"y2":{"field":"p2"}}},
{"data":{"values":[{"i":297.7,"p":1.1879}]},"mark":{"type":"point","shape":"M -0.6 -1 V 1 M -1 -0.5 H -0.2 V 0.5 H -1 Z M 0.4 -0.6 V 0.8 M 0.1 -0.2 H 0.7 V 0.4 H 0.1 Z","size":110,"filled":false,"stroke":"#ffffff","strokeWidth":1,"opacity":1}},
{"data":{"values":[{"i":300.8,"p":1.1879,"t":"×"}]},"mark":{"type":"text","align":"center","baseline":"middle","fontSize":15,"fontWeight":"bold","fill":"#ffffff"},"encoding":{"text":{"field":"t"}}}
]}
],
"resolve":{"scale":{"y":"independent"}}}
